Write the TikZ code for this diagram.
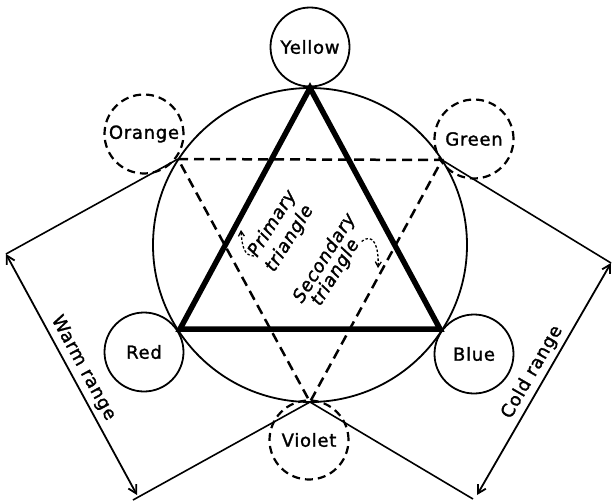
\documentclass[tikz,border=0pt]{standalone}
\usepackage{fontspec}
\setmainfont{DejaVu Sans}[LetterSpace=4, FakeBold=1.5]
\usetikzlibrary{arrows.meta}
\begin{document}
\begin{tikzpicture}[x=1pt,y=-1pt,
  txt/.style={font=\fontsize{18}{20}\selectfont},
  colorc/.style={circle, draw, line width=1.8pt, minimum size=79pt, inner sep=0pt, txt},
  dcolorc/.style={colorc, line width=2.2pt, dash pattern=on 8pt off 5pt},
  prim/.style={line width=5.5pt, line join=miter},
  sec/.style={line width=2.5pt, dash pattern=on 10pt off 6pt},
  ext/.style={line width=1.6pt},
  dim/.style={line width=1.8pt, {Straight Barb[length=8pt,width=9pt]}-{Straight Barb[length=8pt,width=9pt]}},
  note/.style={line width=1.3pt, dash pattern=on 2.5pt off 2pt, -{Straight Barb[length=5pt,width=6pt]}},
  itl/.style={font=\fontsize{18}{20}\selectfont\itshape, inner sep=0pt}
]
\useasboundingbox (0,0) rectangle (613,503);
% big circle
\node[circle, draw, line width=1.8pt, minimum size=314pt, inner sep=0pt] (big) at (310,245) {};
% vertices
\coordinate (vy) at (310,88);
\coordinate (vr) at (180,329);
\coordinate (vb) at (440,329);
\coordinate (vo) at (178,159);
\coordinate (vg) at (442,160);
\coordinate (vv) at (310,402);
% colour circles
\node[colorc] (yellow) at (310,47) {Yellow};
\node[colorc] (red) at (144,352) {Red};
\node[colorc] (blue) at (474,354) {Blue};
\node[dcolorc] (orange) at (144,134) {Orange};
\node[dcolorc] (green) at (474,139) {Green};
\node[dcolorc] (violet) at (309,440) {Violet};
% triangles
\draw[sec] (vo) -- (vg) -- (vv) -- cycle;
\draw[prim] (vy) -- (vr) -- (vb) -- cycle;
% warm range
\coordinate (wt) at (6,254);
\coordinate (wb) at (137,495);
\coordinate (wbx) at (133,500);
\draw[ext] (vo) -- (wt);
\draw[ext] (vv) -- (wbx);
\draw[dim] (wt) -- node[sloped, above, txt, inner sep=4pt] {Warm range} (wb);
% cold range
\coordinate (ct) at (611,263);
\coordinate (cb) at (477,495);
\coordinate (cbx) at (473,499);
\draw[ext] (vg) -- (ct);
\draw[ext] (vv) -- (cbx);
\draw[dim] (cb) -- node[sloped, above, txt, inner sep=4pt] {Cold range} (ct);
% labels inside
\node[itl, rotate=58, anchor=base west] (p1) at (257,258) {Primary};
\node[itl, rotate=58, anchor=base west] (p2) at (274,273) {triangle};
\node[itl, rotate=58, anchor=base west] (s1) at (302,304) {Secondary};
\node[itl, rotate=58, anchor=base west] (s2) at (320,307) {triangle};
\coordinate (pa) at (241,230);
\coordinate (sa) at (378,268);
\draw[note] (p1.base west) ++(-3,-2) .. controls (244,256) and (242,246) .. (pa);
\draw[note] (s2.base east) ++(2,-2) .. controls (373,232) and (379,246) .. (sa);
\end{tikzpicture}
\end{document}
